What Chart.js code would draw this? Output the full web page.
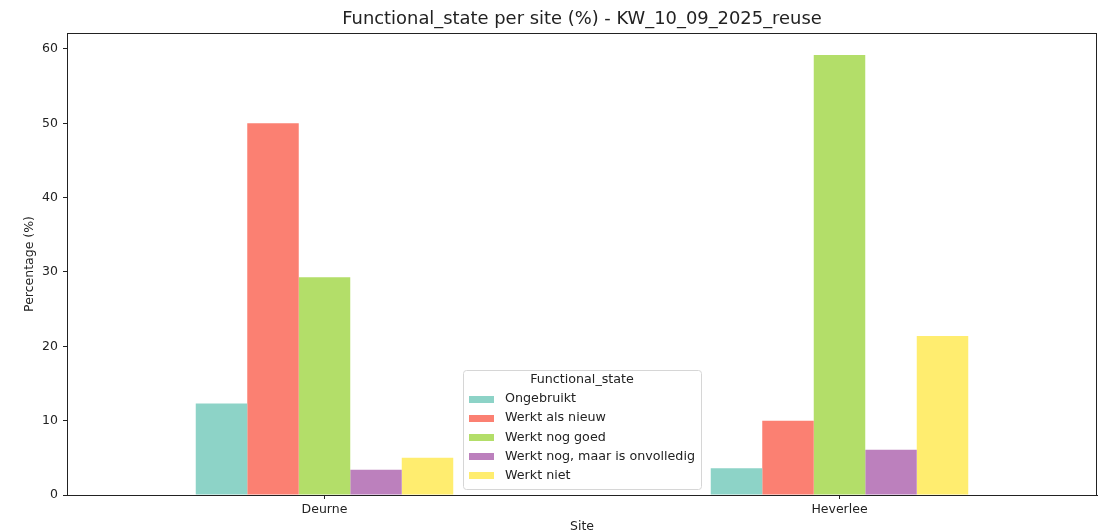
<!DOCTYPE html>
<html>
<head>
<meta charset="utf-8">
<script src="https://cdn.jsdelivr.net/npm/chart.js@4"></script>
<style>
  html, body { margin: 0; padding: 0; background: #fff; }
  #wrap { width: 1099px; height: 532px; }
</style>
</head>
<body>
<div id="wrap"><canvas id="myChart" width="1099" height="532"></canvas></div>
<script>
const sites = ["Deurne", "Heverlee"];
const states = ["Ongebruikt", "Werkt als nieuw", "Werkt nog goed", "Werkt nog, maar is onvolledig", "Werkt niet"];
const ongebruikt = [12.3, 3.6];
const werktAlsNieuw = [50.0, 10.0];
const werktNogGoed = [29.3, 59.2];
const werktOnvolledig = [3.4, 6.1];
const werktNiet = [5.0, 21.4];
const colors = ["#8dd3c7", "#fb8072", "#b3de69", "#bc80bd", "#ffed6f"];
const yTicks = [0, 10, 20, 30, 40, 50, 60];
const chartTitle = "Functional_state per site (%) - KW_10_09_2025_reuse";

const seriesValues = [ongebruikt, werktAlsNieuw, werktNogGoed, werktOnvolledig, werktNiet];
const FONT = "'DejaVu Sans', sans-serif";
const INK = "#222";

// title over the axes, full box around the plot, legend in the lower middle (matplotlib look)
const boxAndLegend = {
  id: "boxAndLegend",
  afterDraw(chart) {
    const { ctx, chartArea: a } = chart;
    ctx.save();
    ctx.fillStyle = INK;
    ctx.font = "17.9px " + FONT;
    ctx.textAlign = "center";
    ctx.textBaseline = "middle";
    ctx.fillText(chartTitle, (a.left + a.right) / 2, 19);

    ctx.strokeStyle = INK;
    ctx.lineWidth = 1;
    ctx.strokeRect(Math.round(a.left) + 0.5, Math.round(a.top) + 0.5,
      Math.round(a.right - a.left) - 1, Math.round(a.bottom - a.top));

    // legend
    ctx.font = "12.7px " + FONT;
    let maxW = ctx.measureText("Functional_state").width;
    chart.data.datasets.forEach(ds => { maxW = Math.max(maxW, ctx.measureText(ds.label).width + 36); });
    const w = Math.round(maxW + 12);
    const h = 119;
    const x0 = Math.round((a.left + a.right) / 2 - w / 2);
    const y0 = Math.round(a.bottom - 6 - h);
    ctx.fillStyle = "rgba(255,255,255,0.85)";
    ctx.strokeStyle = "#d6d6d6";
    ctx.beginPath();
    ctx.roundRect(x0 + 0.5, y0 + 0.5, w, h, 3);
    ctx.fill();
    ctx.stroke();

    ctx.fillStyle = INK;
    ctx.textAlign = "center";
    ctx.fillText("Functional_state", x0 + w / 2, y0 + 10);
    ctx.textAlign = "left";
    chart.data.datasets.forEach((ds, i) => {
      const cy = y0 + 29 + i * 19.1;
      ctx.fillStyle = ds.backgroundColor;
      ctx.fillRect(x0 + 6, Math.round(cy - 3.5), 25, 7);
      ctx.fillStyle = INK;
      ctx.fillText(ds.label, x0 + 42, cy);
    });
    ctx.restore();
  }
};

const ctx = document.getElementById("myChart").getContext("2d");
new Chart(ctx, {
  type: "bar",
  data: {
    labels: sites,
    datasets: states.map((s, i) => ({
      label: s,
      data: seriesValues[i],
      backgroundColor: colors[i],
      borderWidth: 0,
      categoryPercentage: 0.5,
      barPercentage: 1.0,
    })),
  },
  options: {
    responsive: false,
    animation: false,
    layout: { padding: { left: 0, right: 2, top: 33, bottom: 0 } },
    plugins: {
      legend: { display: false },
      tooltip: { enabled: false },
      title: { display: false },
    },
    scales: {
      x: {
        offset: true,
        grid: { display: true, drawOnChartArea: false, offset: false, tickLength: 4, color: INK },
        border: { display: true, color: INK },
        ticks: { color: INK, font: { family: FONT, size: 12.5 }, padding: 3, maxRotation: 0 },
        title: { display: true, text: "Site", color: INK, font: { family: FONT, size: 12.5 }, padding: { top: 0, bottom: -2 } },
        afterFit(scale) { scale.height = 37; },
      },
      y: {
        min: 0,
        max: 62.15,
        afterBuildTicks(scale) { scale.ticks = yTicks.map(v => ({ value: v })); },
        grid: { display: true, drawOnChartArea: false, tickLength: 4, color: INK },
        border: { display: true, color: INK },
        ticks: { color: INK, font: { family: FONT, size: 12.5 }, padding: 5 },
        title: { display: true, text: "Percentage (%)", color: INK, font: { family: FONT, size: 12.5 }, padding: { top: 22, bottom: 0 } },
        afterFit(scale) { scale.width = 67; },
      },
    },
  },
  plugins: [boxAndLegend],
});
</script>
</body>
</html>
